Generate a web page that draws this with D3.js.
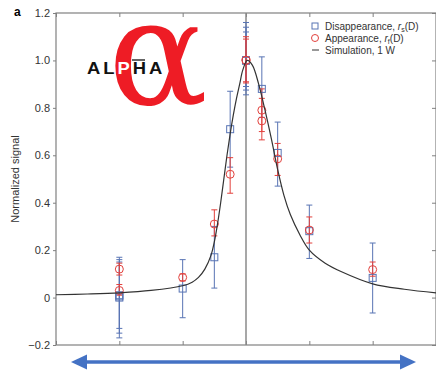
<!DOCTYPE html>
<html><head><meta charset="utf-8">
<script src="https://cdn.jsdelivr.net/npm/d3@7"></script>
<style>body{margin:0;background:#fff}svg{display:block}</style>
</head><body>
<script>
// ---- data ----
const xTicks = [-3, -2, -1, 0, 1, 2, 3];
const yTicks = [-0.2, 0, 0.2, 0.4, 0.6, 0.8, 1.0, 1.2];
const yTickLabels = ["\u22120.2", "0", "0.2", "0.4", "0.6", "0.8", "1.0", "1.2"];

// Disappearance r_s(D) (blue squares)
const disX    = [-2,    -2,    -2,    -1,     -0.5, -0.25, 0,     0,     0,     0.25, 0.5,  1,     2];
const disY    = [0.0,   0.01,  0.005, 0.038,  0.17, 0.71,  1.0,   1.0,   1.0,   0.88, 0.61, 0.28,  0.083];
const disLow  = [-0.17, -0.15, -0.13, -0.085, 0.04, 0.55,  0.855, 0.875, 0.89,  0.76, 0.47, 0.165, -0.065];
const disHigh = [0.17,  0.15,  0.16,  0.16,   0.30, 0.87,  1.16,  1.14,  1.12,  1.015,0.74, 0.39,  0.23];

// Appearance r_f(D) (red circles)
const appX    = [-2,    -2,   -1,    -0.5, -0.25, 0,     0,     0.25, 0.25, 0.5,   1,     2];
const appY    = [0.12,  0.03, 0.085, 0.31, 0.52,  1.0,   1.0,   0.79, 0.745,0.585, 0.285, 0.118];
const appLow  = [0.095, 0.01, 0.07,  0.26, 0.44,  0.905, 0.91,  0.70, 0.665,0.515, 0.23,  0.09];
const appHigh = [0.145, 0.055,0.10,  0.37, 0.59,  1.10,  1.09,  0.88, 0.84, 0.65,  0.34,  0.15];

// Simulation, 1 W
const simX = [-3, -2.5, -2, -1.5, -1, -0.85, -0.75, -0.65, -0.55, -0.5, -0.45, -0.4, -0.35, -0.3, -0.25, -0.2, -0.15, -0.1, -0.05, 0.02, 0.1, 0.2, 0.3, 0.4, 0.5, 0.6, 0.7, 0.85, 1.0, 1.25, 1.5, 2.0, 2.5, 3.0];
const simY = [0.012, 0.015, 0.02, 0.03, 0.05, 0.065, 0.085, 0.12, 0.18, 0.235, 0.31, 0.40, 0.50, 0.60, 0.69, 0.77, 0.84, 0.90, 0.96, 1.0, 0.98, 0.9, 0.79, 0.67, 0.54, 0.43, 0.35, 0.265, 0.2, 0.145, 0.11, 0.058, 0.035, 0.02];

const legendLabels = ["Disappearance, ", "Appearance, ", "Simulation, 1 W"];
const logoLetters = ["A", "L", "P", "H", "A"];

// ---- layout ----
const W = 436, H = 387;
const L = 56, R = 436, T = 13, B = 345;
const blue = "#5874b4", red = "#e2403c";

const svg = d3.select("body").append("svg").attr("width", W).attr("height", H)
  .style("font-family", "'Liberation Sans', Arial, sans-serif");

const x = d3.scaleLinear().domain([-3, 3]).range([L, R]);
const y = d3.scaleLinear().domain([-0.2, 1.2]).range([B, T]);

// frame
const axisColor = "#808080";
svg.append("rect").attr("x", L).attr("y", T).attr("width", R - L).attr("height", B - T)
  .attr("fill", "none").attr("stroke", axisColor).attr("stroke-width", 1.2);

// left axis (outer ticks with labels)
const yAxis = d3.axisLeft(y).tickValues(yTicks).tickSize(3).tickPadding(3)
  .tickFormat((d, i) => yTickLabels[i]);
const gy = svg.append("g").attr("transform", `translate(${L},0)`).call(yAxis);
gy.select(".domain").remove();
gy.selectAll("line").attr("stroke", axisColor);
gy.selectAll("text").attr("fill", "#333").style("font-size", "11px")
  .style("font-family", "'Liberation Sans', Arial, sans-serif");

// right axis (inner ticks)
const gyr = svg.append("g").attr("transform", `translate(${R},0)`)
  .call(d3.axisLeft(y).tickValues(yTicks).tickSize(4).tickFormat(""));
gyr.select(".domain").remove();
gyr.selectAll("line").attr("stroke", axisColor).attr("x2", -4);

// top & bottom inner ticks
const gxt = svg.append("g").attr("transform", `translate(0,${T})`)
  .call(d3.axisBottom(x).tickValues(xTicks).tickSize(4).tickFormat(""));
gxt.select(".domain").remove();
gxt.selectAll("line").attr("stroke", axisColor);
const gxb = svg.append("g").attr("transform", `translate(0,${B})`)
  .call(d3.axisTop(x).tickValues(xTicks).tickSize(4).tickFormat(""));
gxb.select(".domain").remove();
gxb.selectAll("line").attr("stroke", axisColor);

// center line
svg.append("line").attr("x1", x(0)).attr("x2", x(0)).attr("y1", T).attr("y2", B)
  .attr("stroke", "#8a8a8a").attr("stroke-width", 1.5);

// titles
svg.append("text").attr("x", 14).attr("y", 16).text("a")
  .style("font-size", "12px").style("font-weight", "bold");
svg.append("text").attr("transform", "translate(19,179) rotate(-90)")
  .attr("text-anchor", "middle").style("font-size", "11px").attr("fill", "#333")
  .text("Normalized signal");

// ALPHA logo
const logo = svg.append("g");
logo.append("text").attr("x", 108).attr("y", 104).text("\u03b1")
  .style("font-family", "'DejaVu Serif', 'Liberation Serif', serif")
  .style("font-size", "148px").attr("fill", "#ee1c25");
const word = logo.append("text").attr("transform", "translate(87,74) scale(1.15,1)")
  .style("font-size", "16px").style("font-weight", "bold").style("letter-spacing", "2.6px");
logoLetters.forEach((c, i) => {
  word.append("tspan").text(c).attr("fill", i === 2 ? "#fff" : "#111");
});
logo.append("line").attr("x1", 132).attr("x2", 145).attr("y1", 60).attr("y2", 60)
  .attr("stroke", "#111").attr("stroke-width", 1.3);

// error bars
function errBars(xs, lo, hi, color) {
  const g = svg.append("g").attr("stroke", color).attr("stroke-width", 1);
  xs.forEach((d, i) => {
    const cx = x(d);
    g.append("line").attr("x1", cx).attr("x2", cx).attr("y1", y(lo[i])).attr("y2", y(hi[i]));
    [lo[i], hi[i]].forEach(v => g.append("line").attr("x1", cx - 3).attr("x2", cx + 3)
      .attr("y1", y(v)).attr("y2", y(v)));
  });
}
errBars(disX, disLow, disHigh, blue);
errBars(appX, appLow, appHigh, red);

// markers
svg.append("g").selectAll("rect").data(disX).join("rect")
  .attr("x", (d) => x(d) - 3.5).attr("y", (d, i) => y(disY[i]) - 3.5)
  .attr("width", 7).attr("height", 7).attr("fill", "none").attr("stroke", blue).attr("stroke-width", 1);
svg.append("g").selectAll("circle").data(appX).join("circle")
  .attr("cx", (d) => x(d)).attr("cy", (d, i) => y(appY[i])).attr("r", 4)
  .attr("fill", "none").attr("stroke", red).attr("stroke-width", 1);

// simulation curve
const line = d3.line().x((d) => x(d[0])).y((d) => y(d[1])).curve(d3.curveCatmullRom.alpha(0.5));
svg.append("path").datum(simX.map((d, i) => [d, simY[i]])).attr("d", line)
  .attr("fill", "none").attr("stroke", "#333").attr("stroke-width", 1.2);

// legend
const lg = svg.append("g").style("font-size", "10px").attr("fill", "#333");
const ly = [26, 38, 50];
const mx = 315, tx = 325;
lg.append("rect").attr("x", mx - 3).attr("y", ly[0] - 3).attr("width", 6).attr("height", 6)
  .attr("fill", "none").attr("stroke", blue);
lg.append("circle").attr("cx", mx).attr("cy", ly[1]).attr("r", 3.5)
  .attr("fill", "none").attr("stroke", red);
lg.append("line").attr("x1", mx - 3).attr("x2", mx + 4).attr("y1", ly[2]).attr("y2", ly[2])
  .attr("stroke", "#333");
const t0 = lg.append("text").attr("x", tx).attr("y", ly[0] + 3.5).text(legendLabels[0]);
t0.append("tspan").style("font-style", "italic").text("r");
t0.append("tspan").attr("dy", 2.5).style("font-size", "7px").text("s");
t0.append("tspan").attr("dy", -2.5).text("(D)");
const t1 = lg.append("text").attr("x", tx).attr("y", ly[1] + 3.5).text(legendLabels[1]);
t1.append("tspan").style("font-style", "italic").text("r");
t1.append("tspan").attr("dy", 2.5).style("font-size", "7px").text("f");
t1.append("tspan").attr("dy", -2.5).text("(D)");
lg.append("text").attr("x", tx).attr("y", ly[2] + 3.5).text(legendLabels[2]);

// double arrow
const ay = 362, ax1 = 71, ax2 = 416, ah = 16, aw = 7.5;
const arrowColor = "#4472c4";
svg.append("line").attr("x1", ax1 + ah - 2).attr("x2", ax2 - ah + 2).attr("y1", ay).attr("y2", ay)
  .attr("stroke", arrowColor).attr("stroke-width", 3.5);
svg.append("path").attr("d", `M${ax1},${ay} L${ax1 + ah},${ay - aw} L${ax1 + ah},${ay + aw} Z`).attr("fill", arrowColor);
svg.append("path").attr("d", `M${ax2},${ay} L${ax2 - ah},${ay - aw} L${ax2 - ah},${ay + aw} Z`).attr("fill", arrowColor);
</script>
</body></html>
